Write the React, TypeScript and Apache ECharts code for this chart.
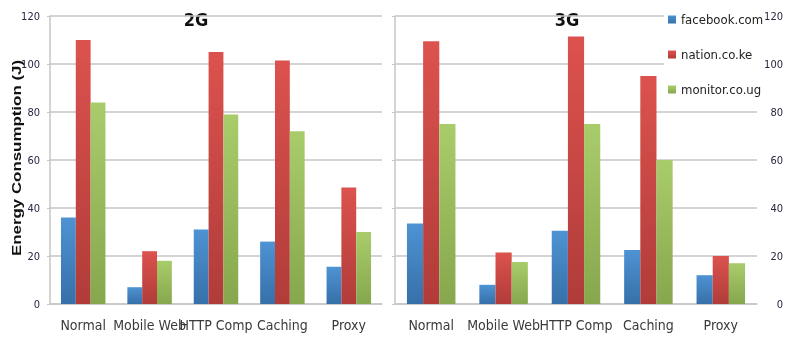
import React, { useEffect, useRef } from 'react';
import * as echarts from 'echarts';

const categories = ['Normal', 'Mobile Web', 'HTTP Comp', 'Caching', 'Proxy'];
const seriesNames = ['facebook.com', 'nation.co.ke', 'monitor.co.ug'];
const facebook2G = [36, 7, 31, 26, 15.5];
const nation2G = [110, 22, 105, 101.5, 48.5];
const monitor2G = [84, 18, 79, 72, 30];
const facebook3G = [33.5, 8, 30.5, 22.5, 12];
const nation3G = [109.5, 21.5, 111.5, 95, 20];
const monitor3G = [75, 17.5, 75, 60, 17];
const yTicks = [0, 20, 40, 60, 80, 100, 120];
const panelTitles = ['2G', '3G'];
const yAxisTitle = 'Energy Consumption (J)';

const NARROW = "'Liberation Sans Narrow', 'Arial Narrow', 'DejaVu Sans Condensed', sans-serif";

const grad = (top: string, bottom: string) =>
  new echarts.graphic.LinearGradient(0, 0, 0, 1, [
    { offset: 0, color: top },
    { offset: 1, color: bottom },
  ]);

const colorsTop = ['#4e93d3', '#dc524e', '#a9cc6b'];
const colorsBottom = ['#3670a9', '#b03c39', '#86a74d'];

export default function App() {
  const ref = useRef<HTMLDivElement>(null);
  useEffect(() => {
    if (!ref.current) return;
    const chart = echarts.init(ref.current, null, { renderer: 'svg' });
    const min = yTicks[0];
    const max = yTicks[yTicks.length - 1];
    const interval = yTicks[1] - yTicks[0];
    const gridLine = { show: true, lineStyle: { color: '#c6c6c6', width: 1.5 } };
    const data2G = [facebook2G, nation2G, monitor2G];
    const data3G = [facebook3G, nation3G, monitor3G];
    const mkSeries = (arr: number[][], idx: number) =>
      arr.map((d, i) => ({
        type: 'bar',
        name: seriesNames[i],
        xAxisIndex: idx,
        yAxisIndex: idx,
        data: d,
        barGap: '0%',
        barCategoryGap: '33%',
        itemStyle: { color: grad(colorsTop[i], colorsBottom[i]) },
      }));
    const xAxisBase = (gridIndex: number) => ({
      type: 'category',
      gridIndex,
      data: categories,
      axisLine: { show: true, lineStyle: { color: '#c6c6c6', width: 1.5 } },
      axisTick: { show: false },
      axisLabel: { interval: 0, fontFamily: NARROW, fontSize: 14, color: '#3a3a3a', margin: 14 },
    });
    chart.setOption({
      animation: false,
      grid: [
        { left: 50, top: 16, width: 332, height: 288 },
        { left: 395, top: 16, width: 362, height: 288 },
      ],
      legend: {
        data: seriesNames,
        orient: 'vertical',
        left: 664,
        top: 8,
        icon: 'rect',
        itemWidth: 8,
        itemHeight: 8,
        itemGap: 22,
        itemStyle: { borderWidth: 0 },
        padding: [5, 2, 5, 4],
        backgroundColor: '#ffffff',
        textStyle: { fontFamily: NARROW, fontSize: 13, color: '#222' },
      },
      xAxis: [xAxisBase(0), xAxisBase(1)],
      yAxis: [
        {
          type: 'value', gridIndex: 0, min, max, interval,
          axisLine: { show: true, lineStyle: { color: '#c6c6c6', width: 1.5 } },
          axisTick: { show: true, length: 3, lineStyle: { color: '#c6c6c6' } },
          axisLabel: { fontFamily: NARROW, fontSize: 11, color: '#262640', margin: 10 },
          splitLine: gridLine,
        },
        {
          type: 'value', gridIndex: 1, min, max, interval, position: 'left',
          axisLine: { show: true, lineStyle: { color: '#c6c6c6', width: 1.5 } },
          axisTick: { show: true, length: 3, lineStyle: { color: '#c6c6c6' } },
          axisLabel: { show: false },
          splitLine: gridLine,
        },
        {
          type: 'value', gridIndex: 1, min, max, interval, position: 'right',
          axisLine: { show: false },
          axisTick: { show: false },
          axisLabel: { fontFamily: NARROW, fontSize: 11, color: '#262640', margin: 26, align: 'right' },
          splitLine: { show: false },
        },
      ],
      series: [...mkSeries(data2G, 0), ...mkSeries(data3G, 1)],
      graphic: [
        {
          type: 'text', x: 196, y: 19,
          style: { text: panelTitles[0], font: `bold 18px ${NARROW}`, fill: '#111', align: 'center', verticalAlign: 'middle' },
        },
        {
          type: 'text', x: 567, y: 19,
          style: { text: panelTitles[1], font: `bold 18px ${NARROW}`, fill: '#111', align: 'center', verticalAlign: 'middle' },
        },
        {
          type: 'text', x: 16, y: 158, rotation: Math.PI / 2, scaleX: 1.3,
          style: { text: yAxisTitle, font: "bold 13px 'Liberation Sans', Arial, sans-serif", fill: '#111', align: 'center', verticalAlign: 'middle' },
        },
      ],
    });
    return () => chart.dispose();
  }, []);
  return <div ref={ref} style={{ position: 'fixed', left: 0, top: 0, width: 789, height: 337 }} />;
}
